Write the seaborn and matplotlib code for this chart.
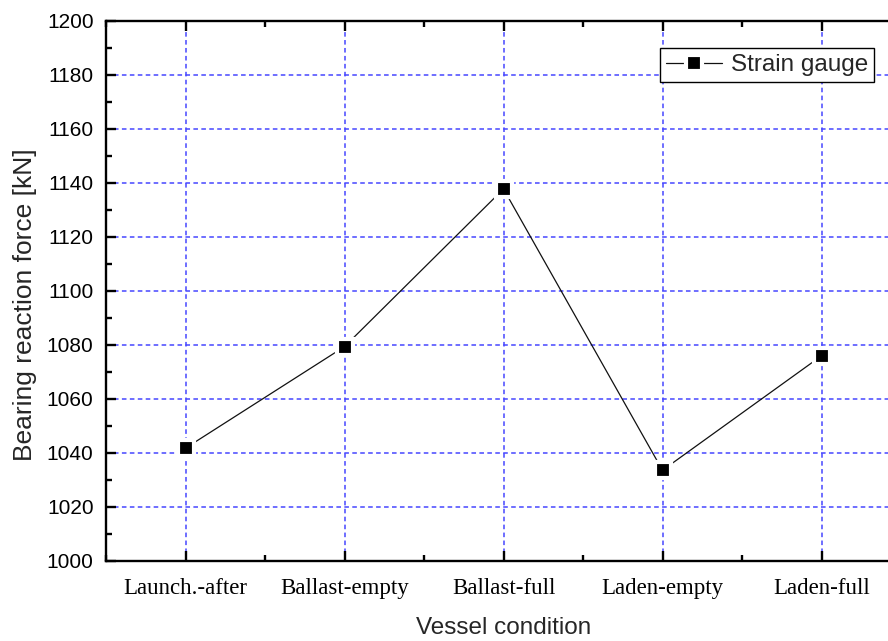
import matplotlib
matplotlib.use("Agg")
import matplotlib.pyplot as plt
from matplotlib.ticker import MultipleLocator
import pandas as pd
import seaborn as sns

# Measured bearing reaction force for each vessel loading condition
conditions = ["Launch.-after", "Ballast-empty", "Ballast-full", "Laden-empty", "Laden-full"]
reaction_kn = [1041.8, 1079.4, 1137.8, 1033.6, 1076.0]
series_name = "Strain gauge"

y_ticks = list(range(1000, 1201, 20))

sns.set_style("ticks")
plt.rcParams["font.family"] = ["Liberation Sans", "DejaVu Sans"]

df = pd.DataFrame({"condition": conditions, "force": reaction_kn})

fig = plt.figure(figsize=(8.88, 6.41), dpi=100)
ax = fig.add_axes([106 / 888, 80 / 641, 795 / 888, 540 / 641])

sns.lineplot(
    data=df, x="condition", y="force", sort=False, ax=ax,
    color="#111111", linewidth=0.9, marker="s", markersize=11.5,
    markerfacecolor="black", markeredgecolor="white", markeredgewidth=3,
    label=series_name, zorder=3,
)

ax.set_xlim(-0.5, len(conditions) - 0.5)
ax.set_ylim(1000, 1200)
ax.set_yticks(y_ticks)
ax.yaxis.set_minor_locator(MultipleLocator(10))
ax.xaxis.set_minor_locator(MultipleLocator(0.5))
ax.set_xticks(range(len(conditions)))
ax.set_xticklabels(conditions, fontfamily="Liberation Serif", fontsize=16.5)

ax.grid(True, which="major", color="#4646ff", linestyle=(0, (3, 2.2)), linewidth=1.1)
ax.set_axisbelow(True)

for side in ["left", "bottom", "top", "right"]:
    ax.spines[side].set_linewidth(1.7)
    ax.spines[side].set_color("black")

ax.tick_params(axis="both", which="major", direction="in", length=7, width=1.7,
               top=True, right=True, colors="black")
ax.tick_params(axis="both", which="minor", direction="in", length=4, width=1.7,
               top=True, right=True, colors="black")
ax.tick_params(axis="y", labelsize=15, pad=9)
ax.tick_params(axis="x", pad=12)

ax.set_xlabel("Vessel condition", fontsize=17.5, labelpad=13)
ax.set_ylabel("Bearing reaction force [kN]", fontsize=19)
ax.yaxis.set_label_coords(-0.087, 0.475, transform=ax.transAxes)

leg = ax.legend(
    loc="upper right", bbox_to_anchor=(874 / 888, 1 - 48 / 641),
    bbox_transform=fig.transFigure, borderaxespad=0, fontsize=17.5,
    frameon=True, fancybox=False, edgecolor="black", framealpha=1,
    handlelength=2.3, handletextpad=0.35, borderpad=0.25,
)
leg.get_frame().set_linewidth(1.0)

fig.savefig("out.png", dpi=100)
